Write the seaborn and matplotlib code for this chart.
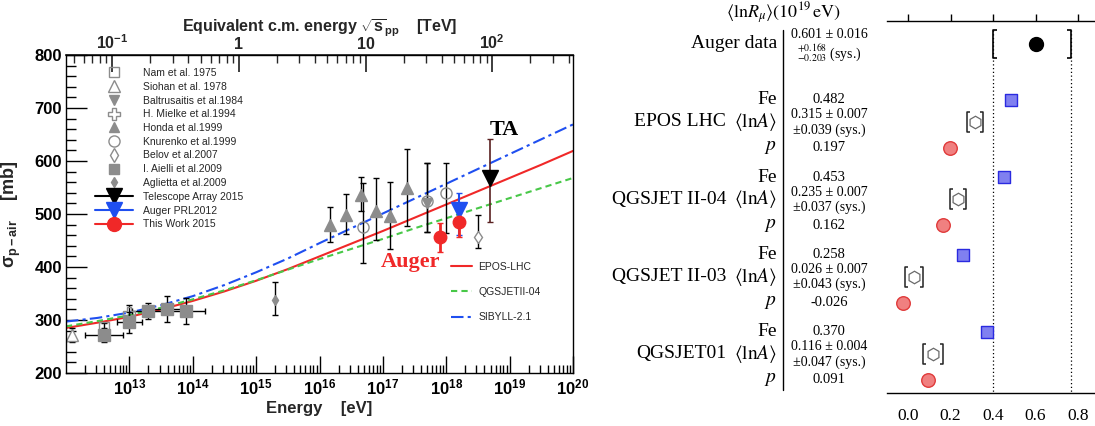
import matplotlib
matplotlib.use("Agg")
import matplotlib.pyplot as plt
import matplotlib.ticker as mticker
import matplotlib.transforms as mtransforms
from matplotlib.lines import Line2D
from matplotlib.path import Path
import numpy as np
import seaborn as sns

# ---------------- left panel: p-air cross section ----------------
model_loge = [12.0, 12.5, 13.0, 13.5, 14.0, 14.5, 15.0, 15.5, 16.0,
              16.5, 17.0, 17.5, 18.0, 18.5, 19.0, 19.5, 20.0]
epos_lhc = [285, 295, 306, 320, 336, 354, 374, 396, 420,
            444, 468, 493, 518, 543, 568, 593, 619]
qgsjet_ii04 = [288, 298, 309, 323, 339, 356, 375, 395, 415,
               434, 453, 473, 492, 511, 530, 549, 568]
sibyll_21 = [297, 304, 314, 328, 345, 366, 390, 416, 445,
             473, 501, 529, 557, 585, 613, 641, 669]

siohan_loge, siohan_sig, siohan_err = [12.09], [272], [13]
nam_loge, nam_sig, nam_err = [12.6], [287], [8]
mielke_loge, mielke_sig, mielke_err = [13.0], [314], [14]
aielli_loge = [12.6, 13.0, 13.3, 13.6, 13.9]
aielli_sig = [272, 296, 317, 321, 317]
aielli_err = [13, 20, 15, 25, 25]
aielli_xlo = [12.3, 12.8, 13.04, 13.35, 13.64]
aielli_xhi = [12.9, 13.2, 13.56, 13.95, 14.2]
aglietta_loge, aglietta_sig = [15.3], [338]
aglietta_lo, aglietta_hi = [29], [34]
honda_loge = [16.16, 16.42, 16.65, 16.89, 17.12, 17.38]
honda_sig = [479, 498, 536, 506, 496, 549]
honda_lo = [32, 36, 30, 55, 62, 72]
honda_hi = [34, 40, 34, 62, 64, 74]
knurenko_loge = [16.68, 17.69, 17.99]
knurenko_sig = [475, 525, 540]
knurenko_lo = [67, 59, 76]
knurenko_hi = [83, 71, 56]
baltru_loge, baltru_sig, baltru_lo, baltru_hi = [17.69], [521], [55], [75]
belov_loge, belov_sig, belov_lo, belov_hi = [18.5], [457], [21], [41]
ta_loge, ta_sig, ta_lo, ta_hi = [18.69], [567], [82], [74]
auger12_loge, auger12_sig, auger12_lo, auger12_hi = [18.2], [507], [47], [33]
this_loge = [17.9, 18.2]
this_sig = [457, 485]
this_lo = [29, 28]
this_hi = [26, 24]

# ---------------- right panel: <lnR_mu> ----------------
model_names = ["EPOS LHC", "QGSJET II-04", "QGSJET II-03", "QGSJET01"]
fe_val = [0.482, 0.453, 0.258, 0.370]
lna_val = [0.315, 0.235, 0.026, 0.116]
lna_stat = [0.007, 0.007, 0.007, 0.004]
lna_sys = [0.039, 0.037, 0.043, 0.047]
p_val = [0.197, 0.162, -0.026, 0.091]
auger_val, auger_stat = 0.601, 0.016
auger_sys_hi, auger_sys_lo = 0.168, 0.203

sns.set_theme(style="ticks")
plt.rcParams["font.family"] = ["Liberation Sans", "DejaVu Sans"]
plt.rcParams["mathtext.fontset"] = "custom"
plt.rcParams["mathtext.rm"] = "Liberation Sans"
plt.rcParams["mathtext.bf"] = "Liberation Sans:bold"
plt.rcParams["mathtext.it"] = "Liberation Sans:italic"

W, H = 1095, 426
fig = plt.figure(figsize=(W / 100, H / 100), dpi=100)

GRAY = "#8c8c8c"
RED = "#f02828"
BLUE = "#1f4ff0"
GREEN = "#48c848"

ax = fig.add_axes([66 / W, 1 - 373 / H, (573 - 66) / W, (373 - 55) / H])
ax.set_xscale("log")

sns.lineplot(x=10 ** np.array(model_loge), y=epos_lhc, ax=ax, color=RED,
             lw=1.5, label="EPOS-LHC")
sns.lineplot(x=10 ** np.array(model_loge), y=qgsjet_ii04, ax=ax, color=GREEN,
             lw=1.5, linestyle=(0, (3, 2)), label="QGSJETII-04")
sns.lineplot(x=10 ** np.array(model_loge), y=sibyll_21, ax=ax, color=BLUE,
             lw=1.5, linestyle=(0, (6, 2, 1.5, 2)), label="SIBYLL-2.1")
model_handles, model_labels = ax.get_legend_handles_labels()


def E(loge):
    return 10 ** np.array(loge, dtype=float)


eb = dict(ecolor="black", elinewidth=1, capsize=2, capthick=1, ls="none")
ax.errorbar(E(siohan_loge), siohan_sig, yerr=siohan_err, marker="^", ms=8,
            mfc="white", mec=GRAY, **eb)
ax.errorbar(E(nam_loge), nam_sig, yerr=nam_err, marker="s", ms=7,
            mfc="none", mec=GRAY, **eb)
ax.errorbar(E(mielke_loge), mielke_sig, yerr=mielke_err, marker="P", ms=8,
            mfc="none", mec=GRAY, **eb)
aie = E(aielli_loge)
ax.errorbar(aie, aielli_sig, yerr=aielli_err,
            xerr=[aie - E(aielli_xlo), E(aielli_xhi) - aie],
            marker="s", ms=9, mfc=GRAY, mec=GRAY, **eb)
ax.errorbar(E(aglietta_loge), aglietta_sig, yerr=[aglietta_lo, aglietta_hi],
            marker="d", ms=5, mfc=GRAY, mec=GRAY, **eb)
ax.errorbar(E(honda_loge), honda_sig, yerr=[honda_lo, honda_hi], marker="^",
            ms=8, mfc=GRAY, mec=GRAY, **eb)
ax.errorbar(E(baltru_loge), baltru_sig, yerr=[baltru_lo, baltru_hi],
            marker="v", ms=7, mfc=GRAY, mec=GRAY, **eb)
ax.errorbar(E(knurenko_loge), knurenko_sig, yerr=[knurenko_lo, knurenko_hi],
            marker="o", ms=8, mfc="none", mec=GRAY, **eb)
ax.errorbar(E(belov_loge), belov_sig, yerr=[belov_lo, belov_hi], marker="d",
            ms=6, mfc="white", mec=GRAY, **eb)
ax.errorbar(E(ta_loge), ta_sig, yerr=[ta_lo, ta_hi], marker="v", ms=12,
            mfc="black", mec="black", ecolor="#5a2020", elinewidth=1.2,
            capsize=2, ls="none")
ax.errorbar(E(auger12_loge), auger12_sig, yerr=[auger12_lo, auger12_hi],
            marker="v", ms=11, mfc=BLUE, mec=BLUE, ecolor=BLUE, elinewidth=1.5,
            capsize=2, ls="none")
ax.errorbar(E(this_loge), this_sig, yerr=[this_lo, this_hi], marker="o",
            ms=9, mfc=RED, mec=RED, ecolor=RED, elinewidth=2, capsize=2,
            ls="none")

ax.text(10 ** 18.92, 658, "TA", family="Liberation Serif", weight="bold",
        fontsize=16, ha="center", va="center", color="black")
ax.text(10 ** 17.43, 409, "Auger", family="Liberation Serif", weight="bold",
        fontsize=16, ha="center", va="center", color=RED)

ax.set_xlim(1e12, 1e20)
ax.set_ylim(200, 800)
ax.yaxis.set_major_locator(mticker.MultipleLocator(100))
ax.yaxis.set_minor_locator(mticker.MultipleLocator(20))
xt = [1e13, 1e14, 1e15, 1e16, 1e17, 1e18, 1e19, 1e20]
ax.set_xticks(xt)
ax.set_xticklabels([r"$\mathbf{10^{%d}}$" % int(np.log10(v)) for v in xt])
ax.xaxis.set_minor_locator(mticker.LogLocator(base=10, subs=np.arange(2, 10),
                                              numticks=100))
ax.xaxis.set_minor_formatter(mticker.NullFormatter())
for lab in ax.get_yticklabels():
    lab.set_fontweight("bold")
ax.tick_params(axis="both", which="both", direction="in", labelsize=12,
               colors="black", pad=3)
ax.tick_params(axis="y", which="major", length=15, width=1)
ax.tick_params(axis="y", which="minor", length=7, width=1)
ax.tick_params(axis="x", which="major", length=12, width=1)
ax.tick_params(axis="x", which="minor", length=6, width=1)
for s in ax.spines.values():
    s.set_color("black")
    s.set_linewidth(1)
ax.set_xlabel("Energy    [eV]", fontsize=12, fontweight="bold", labelpad=3)
ax.set_ylabel(r"$\mathbf{\sigma_{p-air}}$    [mb]", fontsize=13,
              fontweight="bold", labelpad=8)


def to_tev(e):
    return np.sqrt(2 * 0.938e9 * np.clip(e, 1e-30, None)) / 1e12


def to_ev(s):
    return (np.asarray(s) * 1e12) ** 2 / (2 * 0.938e9)


sec = ax.secondary_xaxis("top", functions=(to_tev, to_ev))
sec.set_xticks([0.1, 1, 10, 100])
sec.set_xticklabels([r"$\mathbf{10^{-1}}$", "1", "10", r"$\mathbf{10^{2}}$"])
sec.xaxis.set_minor_locator(mticker.LogLocator(base=10, subs=np.arange(2, 10),
                                               numticks=100))
sec.xaxis.set_minor_formatter(mticker.NullFormatter())
sec.tick_params(axis="x", which="both", direction="in", labelsize=11.5, pad=2)
sec.tick_params(axis="x", which="major", length=12)
sec.tick_params(axis="x", which="minor", length=6)
for lab in sec.get_xticklabels():
    lab.set_fontweight("bold")
sec.set_xlabel(r"Equivalent c.m. energy $\mathbf{\sqrt{s}_{pp}}$    [TeV]",
               fontsize=11.5, fontweight="bold", labelpad=1)

data_handles = [
    Line2D([], [], ls="none", marker="s", ms=7, mfc="none", mec=GRAY),
    Line2D([], [], ls="none", marker="^", ms=8, mfc="none", mec=GRAY),
    Line2D([], [], ls="none", marker="v", ms=7, mfc=GRAY, mec=GRAY),
    Line2D([], [], ls="none", marker="P", ms=8, mfc="none", mec=GRAY),
    Line2D([], [], ls="none", marker="^", ms=7, mfc=GRAY, mec=GRAY),
    Line2D([], [], ls="none", marker="o", ms=8, mfc="none", mec=GRAY),
    Line2D([], [], ls="none", marker="d", ms=7, mfc="none", mec=GRAY),
    Line2D([], [], ls="none", marker="s", ms=7, mfc=GRAY, mec=GRAY),
    Line2D([], [], ls="none", marker="d", ms=5, mfc=GRAY, mec=GRAY),
    Line2D([], [], color="black", lw=1.5, marker="v", ms=12),
    Line2D([], [], color=BLUE, lw=1.5, marker="v", ms=12),
    Line2D([], [], color=RED, lw=1.5, marker="o", ms=10),
]
data_labels = ["Nam et al. 1975", "Siohan et al. 1978",
               "Baltrusaitis et al.1984", "H. Mielke et al.1994",
               "Honda et al.1999", "Knurenko et al.1999", "Belov et al.2007",
               "I. Aielli et al.2009", "Aglietta et al.2009",
               "Telescope Array 2015", "Auger PRL2012", "This Work 2015"]
leg1 = ax.legend(data_handles, data_labels, loc="upper left",
                 bbox_to_anchor=(95 / W, 1 - 68 / H),
                 bbox_transform=fig.transFigure, frameon=False, fontsize=7.5,
                 labelspacing=0.36, handlelength=3.6, handletextpad=1.0,
                 borderpad=0, borderaxespad=0)
ax.add_artist(leg1)
ax.legend(model_handles, model_labels, loc="upper left",
          bbox_to_anchor=(451 / W, 1 - 262 / H), bbox_transform=fig.transFigure,
          frameon=False, fontsize=7.5, labelspacing=1.45, handlelength=2.0,
          handletextpad=0.6, borderpad=0, borderaxespad=0)

# ---------------- right panel ----------------
ax2 = fig.add_axes([887 / W, 1 - 393 / H, (W - 887) / W, (393 - 21) / H])
ax2.set_xlim(-0.1, 0.88)
ax2.set_ylim(393, 21)
y_auger = 44
y_fe = [100 + 77.3 * i for i in range(len(model_names))]
y_lna = [y + 22 for y in y_fe]
y_p = [y + 48 for y in y_fe]

lb = Path([(0.28, 1), (0, 1), (0, -1), (0.28, -1)],
          [Path.MOVETO, Path.LINETO, Path.LINETO, Path.LINETO])
rb = Path([(-0.28, 1), (0, 1), (0, -1), (-0.28, -1)],
          [Path.MOVETO, Path.LINETO, Path.LINETO, Path.LINETO])

lo_edge = auger_val - auger_sys_lo
hi_edge = auger_val + auger_sys_hi
ax2.vlines([lo_edge, hi_edge], y_auger - 14, 393, colors="black",
           linestyles=(0, (1, 2)), lw=0.9)
ax2.plot([lo_edge], [y_auger], marker=lb, ms=20, mfc="none", mec="black",
         mew=1.2, ls="none")
ax2.plot([hi_edge], [y_auger], marker=rb, ms=20, mfc="none", mec="black",
         mew=1.2, ls="none")
ax2.plot([auger_val], [y_auger], marker="o", ms=10, color="black", ls="none")

sns.scatterplot(x=fe_val, y=y_fe, ax=ax2, marker="s", s=85, color="#8080f0",
                edgecolor="#2a2ae0", linewidth=1, zorder=3)
sns.scatterplot(x=p_val, y=y_p, ax=ax2, marker="o", s=95, color="#f08080",
                edgecolor="#e03a3a", linewidth=1, zorder=3)
ax2.plot(lna_val, y_lna, marker="h", ms=9, mfc="none", mec="#6a6a6a",
         mew=0.9, ls="none")
ax2.plot(np.array(lna_val) - np.array(lna_sys), y_lna, marker=lb, ms=15,
         mfc="none", mec="#222222", mew=1.1, ls="none")
ax2.plot(np.array(lna_val) + np.array(lna_sys), y_lna, marker=rb, ms=15,
         mfc="none", mec="#222222", mew=1.1, ls="none")

ax2.set_yticks([])
ax2.set_xticks([0.0, 0.2, 0.4, 0.6, 0.8])
ax2.set_xticklabels(["0.0", "0.2", "0.4", "0.6", "0.8"])
ax2.tick_params(axis="x", which="both", bottom=False, top=True,
                labelbottom=True, direction="out", length=5, width=1,
                labelsize=12.5, pad=6, colors="black")
for lab in ax2.get_xticklabels():
    lab.set_fontfamily("Liberation Serif")
for side in ["left", "right"]:
    ax2.spines[side].set_visible(False)
for side in ["top", "bottom"]:
    ax2.spines[side].set_color("black")
    ax2.spines[side].set_linewidth(1)

serif = dict(family="Liberation Serif", color="black")
tr = mtransforms.blended_transform_factory(fig.transFigure, ax2.transData)
plt.rcParams["mathtext.fontset"] = "stix"

fig.text(783 / W, 1 - 13 / H,
         r"$\langle \mathrm{ln}R_{\mu}\rangle (10^{19}\,\mathrm{eV})$",
         ha="center", va="center", fontsize=13, **serif)
fig.add_artist(Line2D([783 / W, 783 / W], [1 - 30 / H, 1 - 390 / H],
                      transform=fig.transFigure, color="black", lw=1))

lab_x = 777 / W
name_x = 726 / W
val_x = 829 / W
ax2.text(lab_x, y_auger, "Auger data", transform=tr, ha="right",
         va="center", fontsize=14, **serif)
ax2.text(val_x, y_auger - 9, "%.3f ± %.3f" % (auger_val, auger_stat),
         transform=tr, ha="center", va="center", fontsize=10, **serif)
ax2.text(val_x, y_auger + 9,
         r"${}^{+%.3f}_{-%.3f}$ (sys.)" % (auger_sys_hi, auger_sys_lo),
         transform=tr, ha="center", va="center", fontsize=10, **serif)

for i, name in enumerate(model_names):
    ax2.text(name_x, y_lna[i], name, transform=tr, ha="right", va="center",
             fontsize=14, **serif)
    ax2.text(lab_x, y_fe[i], "Fe", transform=tr, ha="right", va="center",
             fontsize=14, **serif)
    ax2.text(lab_x, y_lna[i], r"$\langle \mathrm{ln}A\rangle$", transform=tr,
             ha="right", va="center", fontsize=14, **serif)
    ax2.text(lab_x, y_p[i], r"$p$", transform=tr, ha="right", va="center",
             fontsize=14, **serif)
    ax2.text(val_x, y_fe[i], "%.3f" % fe_val[i], transform=tr, ha="center",
             va="center", fontsize=10.5, **serif)
    ax2.text(val_x, y_lna[i] - 7, "%.3f ± %.3f" % (lna_val[i], lna_stat[i]),
             transform=tr, ha="center", va="center", fontsize=10, **serif)
    ax2.text(val_x, y_lna[i] + 8, "±%.3f (sys.)" % lna_sys[i], transform=tr,
             ha="center", va="center", fontsize=10, **serif)
    ax2.text(val_x, y_p[i], "%.3f" % p_val[i], transform=tr, ha="center",
             va="center", fontsize=10.5, **serif)

fig.savefig("out.png", dpi=100)
